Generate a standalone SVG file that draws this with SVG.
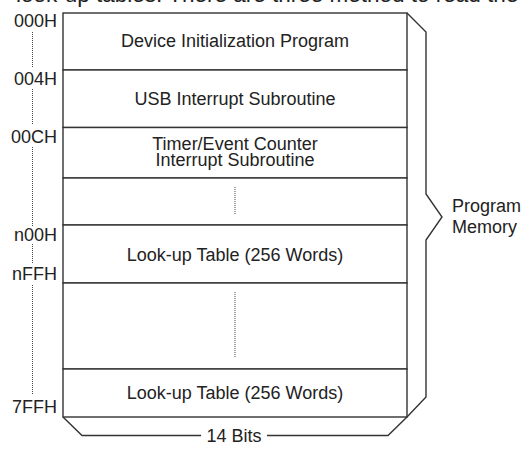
<svg xmlns="http://www.w3.org/2000/svg" width="524" height="450" viewBox="0 0 524 450">
  <style>
    .bg { fill: #ffffff; }
    .cell { fill: #ffffff; stroke: #333333; stroke-width: 1.4; }
    .rule { stroke: #333333; stroke-width: 1.4; fill: none; }
    .dots { stroke: #444444; stroke-width: 1; stroke-dasharray: 1 1; fill: none; }
    .t { font-family: "Liberation Sans", Arial, sans-serif; font-size: 18px; fill: #222222; }
    .mid { text-anchor: middle; }
    .end { text-anchor: end; }
    .body { font-family: "Liberation Sans", Arial, sans-serif; font-size: 22.5px; fill: #222222; }
  </style>

  <rect class="bg" x="0" y="0" width="524" height="450"/>

  <!-- running text of the page, cut by the top edge -->
  <text class="body" x="16" y="2">look-up tables. There are three method to read the</text>

  <!-- memory map rows -->
  <g id="row-init">
    <rect class="cell" x="63" y="13" width="344" height="57"/>
    <text class="t mid" x="235" y="47">Device Initialization Program</text>
  </g>
  <g id="row-usb">
    <rect class="cell" x="63" y="70" width="344" height="57.5"/>
    <text class="t mid" x="235" y="105">USB Interrupt Subroutine</text>
  </g>
  <g id="row-timer">
    <rect class="cell" x="63" y="127.5" width="344" height="50.5"/>
    <text class="t mid" x="235" y="149.5">Timer/Event Counter</text>
    <text class="t mid" x="235" y="166">Interrupt Subroutine</text>
  </g>
  <g id="row-gap1">
    <rect class="cell" x="63" y="178" width="344" height="47"/>
    <line class="dots" x1="235" y1="187" x2="235" y2="215"/>
  </g>
  <g id="row-table1">
    <rect class="cell" x="63" y="225" width="344" height="58"/>
    <text class="t mid" x="235" y="261">Look-up Table (256 Words)</text>
  </g>
  <g id="row-gap2">
    <rect class="cell" x="63" y="283" width="344" height="86"/>
    <line class="dots" x1="235" y1="292" x2="235" y2="358"/>
  </g>
  <g id="row-table2">
    <rect class="cell" x="63" y="369" width="344" height="48"/>
    <text class="t mid" x="235" y="398.5">Look-up Table (256 Words)</text>
  </g>

  <!-- address labels -->
  <g id="addresses">
    <text class="t end" x="57" y="27.3">000H</text>
    <text class="t end" x="57" y="85">004H</text>
    <text class="t end" x="57" y="142.7">00CH</text>
    <text class="t end" x="57" y="240.7">n00H</text>
    <text class="t end" x="57" y="280">nFFH</text>
    <text class="t end" x="57" y="413.3">7FFH</text>
  </g>

  <!-- dotted address leaders -->
  <g id="connectors">
    <line class="dots" x1="32.5" y1="32" x2="32.5" y2="67"/>
    <line class="dots" x1="32.5" y1="89" x2="32.5" y2="125"/>
    <line class="dots" x1="32.5" y1="147" x2="32.5" y2="226"/>
    <line class="dots" x1="32.5" y1="244" x2="32.5" y2="264"/>
    <line class="dots" x1="32.5" y1="285" x2="32.5" y2="394"/>
  </g>

  <!-- brace for the whole program memory -->
  <g id="brace-memory">
    <polyline class="rule" points="407,13 426,32 426,194 442,217 426,240 426,397 407,417"/>
    <text class="t" x="452" y="211.5">Program</text>
    <text class="t" x="452" y="233">Memory</text>
  </g>

  <!-- width brace -->
  <g id="brace-width">
    <polyline class="rule" points="201,435.5 82,435.5 63,417"/>
    <polyline class="rule" points="267,435.5 388,435.5 407,417"/>
    <text class="t mid" x="234" y="441.5">14 Bits</text>
  </g>
</svg>
